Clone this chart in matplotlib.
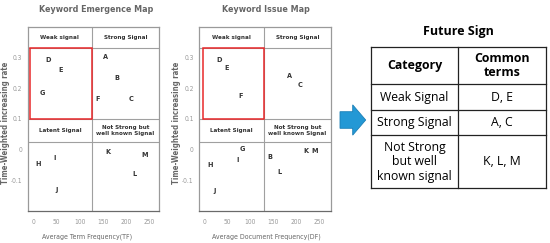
import os
import matplotlib
matplotlib.use("Agg")
import matplotlib.pyplot as plt
from matplotlib.patches import Rectangle, FancyArrow
from matplotlib import font_manager
from matplotlib.font_manager import FontProperties

# ---------------- data ----------------
tf_labels = ["A", "B", "C", "D", "E", "F", "G", "H", "I", "J", "K", "L", "M"]
tf_x = [155, 180, 211, 31, 60, 139, 20, 9.5, 46, 50, 160, 218, 240]
tf_y = [0.303, 0.233, 0.165, 0.293, 0.26, 0.165, 0.183, -0.049, -0.027, -0.133, -0.009, -0.081, -0.017]

df_labels = ["A", "B", "C", "D", "E", "F", "G", "H", "I", "J", "K", "L", "M"]
df_x = [186, 143, 209, 33, 49, 80, 83, 12, 73, 22, 221, 163, 241]
df_y = [0.239, -0.024, 0.212, 0.293, 0.265, 0.175, 0.0, -0.052, -0.036, -0.135, -0.004, -0.074, -0.004]

x_ticks = [0, 50, 100, 150, 200, 250]
y_ticks = [-0.1, 0, 0.1, 0.2, 0.3]
y_tick_labels = ["-0.1", "0", "0.1", "0.2", "0.3"]

quad_names = ["Weak signal", "Strong Signal", "Latent Signal", "Not Strong but\nwell known Signal"]

table_title = "Future Sign"
table_header = ["Category", "Common\nterms"]
table_category = ["Weak Signal", "Strong Signal", "Not Strong\nbut well\nknown signal"]
table_terms = ["D, E", "A, C", "K, L, M"]

# ---------------- fonts ----------------
files = {os.path.basename(f.fname): f.fname for f in font_manager.fontManager.ttflist}


def pick(cands):
    for c in cands:
        if c in files:
            return files[c]
    return None


reg_path = pick(["DejaVuSansCondensed.ttf", "LiberationSansNarrow-Regular.ttf"])
bold_path = pick(["DejaVuSansCondensed-Bold.ttf", "LiberationSansNarrow-Bold.ttf"])
if reg_path and bold_path:
    FP_R = FontProperties(fname=reg_path)
    FP_B = FontProperties(fname=bold_path)
    SC = 1.0
else:
    FP_R = FontProperties(family="DejaVu Sans")
    FP_B = FontProperties(family="DejaVu Sans", weight="bold")
    SC = 0.85


def fp(bold, size):
    p = (FP_B if bold else FP_R).copy()
    p.set_size(size * SC)
    return p


tbl_font = "Open Sans"

W, H = 550, 243
fig = plt.figure(figsize=(5.5, 2.43), dpi=100)
fig.patch.set_facecolor("white")


def px_axes(l, t, r, b):
    return fig.add_axes([l / W, 1 - b / H, (r - l) / W, (b - t) / H])


def draw_map(ax, xs, ys, labs, xlim, divider, red_left, title, xlabel, tcx, xlcx):
    ax.set_xlim(*xlim)
    ax.set_ylim(-0.2, 0.4)
    y_head, y_mid, y_band = 0.333, 0.099, 0.025
    for s in ax.spines.values():
        s.set_color("#9a9a9a")
        s.set_linewidth(0.9)
    ax.spines["bottom"].set_color("#6a6a6a")
    lc = "#a0a0a0"
    ax.axvline(divider, color=lc, lw=0.8)
    ax.axhline(y_head, color=lc, lw=0.8)
    ax.axhline(y_mid, color=lc, lw=0.8)
    ax.axhline(y_band, color=lc, lw=0.8)
    ax.add_patch(Rectangle((red_left, y_mid), divider - red_left, y_head - y_mid,
                           fill=False, edgecolor="#e8282a", lw=1.1, zorder=5))
    xl = (xlim[0] + divider) / 2
    xr = (divider + xlim[1]) / 2
    hk = dict(ha="center", va="center", color="#333333", fontproperties=fp(True, 4.5))
    ax.text(xl, 0.367, quad_names[0], **hk)
    ax.text(xr, 0.367, quad_names[1], **hk)
    ax.text(xl, 0.062, quad_names[2], **hk)
    ax.text(xr, 0.062, quad_names[3], linespacing=1.25, **hk)
    for x, y, t in zip(xs, ys, labs):
        ax.text(x, y, t, ha="center", va="center", color="#333333",
                fontproperties=fp(True, 5.2))
    ax.set_xticks(x_ticks)
    ax.set_xticklabels([str(v) for v in x_ticks])
    ax.set_yticks(y_ticks)
    ax.set_yticklabels(y_tick_labels)
    ax.tick_params(length=0, labelcolor="#999999")
    ax.tick_params(axis="x", pad=6.0)
    ax.tick_params(axis="y", pad=4.0)
    for t in ax.get_xticklabels() + ax.get_yticklabels():
        t.set_fontproperties(fp(False, 4.8))
    ax.text(tcx, 1.096, title, transform=ax.transAxes, ha="center", va="center",
            color="#666666", fontproperties=fp(True, 6.4))
    ax.text(xlcx, -0.143, xlabel, transform=ax.transAxes, ha="center", va="center",
            color="#666666", fontproperties=fp(False, 5.0))
    ax.text(-0.17, 0.48, "Time-Weighted increasing rate", transform=ax.transAxes,
            ha="center", va="center", rotation=90, color="#666666",
            fontproperties=fp(True, 5.6))


ax1 = px_axes(27.7, 27, 159, 210.7)
draw_map(ax1, tf_x, tf_y, tf_labels, (-12, 271), 126.5, -8,
         "Keyword Emergence Map", "Average Term Frequency(TF)", 0.52, 0.45)

ax2 = px_axes(199.3, 27, 330.7, 210.7)
draw_map(ax2, df_x, df_y, df_labels, (-11, 275), 130.4, -2.2,
         "Keyword Issue Map", "Average Document Frequency(DF)", 0.51, 0.51)

# ---------------- overlay: arrow + table ----------------
ov = fig.add_axes([0, 0, 1, 1])
ov.set_xlim(0, W)
ov.set_ylim(H, 0)
ov.axis("off")
ov.patch.set_alpha(0)

ov.add_patch(FancyArrow(340, 120, 25.7, 0, width=16.6, head_width=30.3,
                        head_length=13, length_includes_head=True,
                        facecolor="#2398d5", edgecolor="#1b7fb6", lw=0.6))

tx0, tx1, tx2 = 370.7, 458.3, 545.7
rows = [47.3, 84, 110, 135.3, 188.3]
lk = dict(color="#222222", lw=0.9)
for y in rows:
    ov.plot([tx0, tx2], [y, y], **lk)
for x in (tx0, tx1, tx2):
    ov.plot([x, x], [rows[0], rows[-1]], **lk)

ov.text((tx0 + tx2) / 2 + 0.5, 31.7, table_title, ha="center", va="center",
        fontsize=9.0, fontweight="bold", family=tbl_font, color="black")
c1 = (tx0 + tx1) / 2
c2 = (tx1 + tx2) / 2
ov.text(c1, (rows[0] + rows[1]) / 2, table_header[0], ha="center", va="center",
        fontsize=8.9, fontweight="bold", family=tbl_font)
ov.text(c2, (rows[0] + rows[1]) / 2 - 0.5, table_header[1], ha="center", va="center",
        fontsize=8.9, fontweight="bold", family=tbl_font, linespacing=1.12)
for i, (cat, term) in enumerate(zip(table_category, table_terms)):
    yc = (rows[i + 1] + rows[i + 2]) / 2
    ov.text(c1, yc, cat, ha="center", va="center", fontsize=8.8,
            family=tbl_font, linespacing=1.12)
    ov.text(c2, yc, term, ha="center", va="center", fontsize=8.8,
            family=tbl_font)

fig.savefig("out.png", dpi=100, facecolor="white")
